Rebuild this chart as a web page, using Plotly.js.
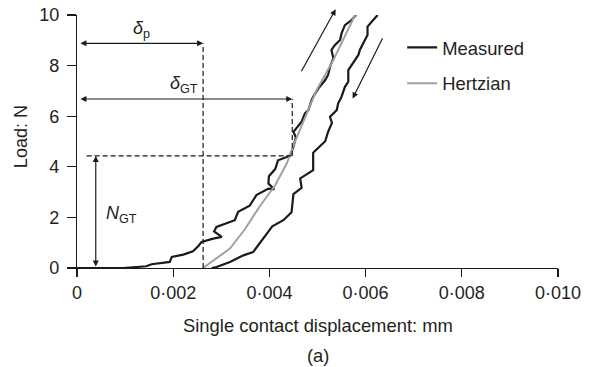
<!DOCTYPE html>
<html>
<head>
<meta charset="utf-8">
<script src="https://cdn.plot.ly/plotly-3.0.1.min.js"></script>
<style>html,body{margin:0;padding:0;background:#fff;}#chart{width:599px;height:367px;}</style>
</head>
<body>
<div id="chart"></div>
<script>
// Measured loading branch (displacement mm, load N)
const loadX = [0, 0.00096, 0.00144, 0.00155, 0.00193, 0.00197, 0.00221, 0.00241, 0.00252, 0.00259, 0.00283, 0.00301, 0.00285, 0.00290, 0.00328, 0.00335, 0.00359, 0.00373, 0.00398, 0.00410, 0.00398, 0.00399, 0.00412, 0.00418, 0.00436, 0.00443, 0.00450, 0.00455, 0.00450, 0.00467, 0.00474, 0.00481, 0.00488, 0.00491, 0.00502, 0.00516, 0.00522, 0.00526, 0.00533, 0.00529, 0.00536, 0.00547, 0.00550, 0.00557, 0.00571, 0.00580];
const loadY = [0, 0, 0.07, 0.15, 0.24, 0.44, 0.53, 0.66, 0.86, 1.03, 1.16, 1.23, 1.45, 1.62, 1.89, 2.22, 2.46, 2.88, 3.14, 3.11, 3.34, 3.63, 3.91, 4.26, 4.39, 4.46, 4.79, 5.17, 5.38, 5.78, 6.11, 6.24, 6.64, 6.77, 7.10, 7.43, 7.63, 7.95, 8.29, 8.62, 8.81, 9.01, 9.28, 9.60, 9.80, 10.0];
// Measured unloading branch
const unloadX = [0.00625, 0.00609, 0.00604, 0.00604, 0.00595, 0.00588, 0.00585, 0.00571, 0.00564, 0.00564, 0.00557, 0.00550, 0.00543, 0.00540, 0.00526, 0.00530, 0.00522, 0.00516, 0.00491, 0.00491, 0.00464, 0.00467, 0.00450, 0.00446, 0.00429, 0.00406, 0.00391, 0.00366, 0.00346, 0.00318, 0.00290, 0.00280];
const unloadY = [10.0, 9.67, 9.54, 9.21, 8.88, 8.62, 8.42, 8.02, 7.82, 7.36, 7.16, 6.77, 6.51, 6.24, 5.98, 5.73, 5.38, 5.01, 4.56, 3.87, 3.54, 3.17, 2.92, 2.20, 1.89, 1.65, 1.25, 0.63, 0.50, 0.24, 0.04, 0];
// Hertzian prediction
const hertzX = [0.00262, 0.00318, 0.00349, 0.00380, 0.00412, 0.00436, 0.00453, 0.00498, 0.00533, 0.00578];
const hertzY = [0, 0.77, 1.53, 2.44, 3.27, 4.13, 4.99, 7.03, 8.22, 10.0];
// Axis ticks
const xTickVals = [0, 0.002, 0.004, 0.006, 0.008, 0.010];
const xTickText = ["0", "0·002", "0·004", "0·006", "0·008", "0·010"];
const yTickVals = [0, 2, 4, 6, 8, 10];
// Construction markers
const deltaP = 0.002622;     // δp (mm)
const deltaGT = 0.004475;    // δGT (mm)
const loadGT = 4.43;         // N_GT (N)
const yDeltaP = 8.88;
const yDeltaGT = 6.68;
const xNGT = 0.00039;

const measX = loadX.concat([null], unloadX);
const measY = loadY.concat([null], unloadY);

const FONT = '"Liberation Sans", Arial, Helvetica, sans-serif';
const TXT = '#231f20';

const traces = [
  {x: measX, y: measY, type: 'scatter', mode: 'lines', name: 'Measured',
   line: {color: '#1a1a1a', width: 2.2}, connectgaps: false, legendgroup: 'm', cliponaxis: false},
  {x: hertzX, y: hertzY, type: 'scatter', mode: 'lines', name: 'Hertzian',
   line: {color: '#a0a0a0', width: 2}, legendgroup: 'h', cliponaxis: false}
];

const dash = {color: '#1a1a1a', width: 1.2, dash: '5px,3px'};
const shapes = [
  {type: 'line', xref: 'x', yref: 'y', x0: deltaP, x1: deltaP, y0: 0, y1: yDeltaP, line: dash},
  {type: 'line', xref: 'x', yref: 'y', x0: deltaGT, x1: deltaGT, y0: loadGT, y1: yDeltaGT, line: dash},
  {type: 'line', xref: 'x', yref: 'y', x0: 0.0002, x1: deltaGT, y0: loadGT, y1: loadGT, line: dash}
];

function arrow(xh, yh, xt, yt, both) {
  return {x: xh, y: yh, ax: xt, ay: yt, xref: 'x', yref: 'y', axref: 'x', ayref: 'y',
    text: '', showarrow: true, arrowhead: 2, startarrowhead: 2, arrowsize: 1, startarrowsize: 1,
    arrowwidth: 1.2, arrowcolor: '#1a1a1a', arrowside: both ? 'end+start' : 'end', standoff: 0, startstandoff: 0};
}

const annotations = [
  arrow(deltaP, yDeltaP, 0.00004, yDeltaP, true),
  arrow(deltaGT, yDeltaGT, 0.00004, yDeltaGT, true),
  arrow(xNGT, loadGT, xNGT, 0, true),
  arrow(0.005378, 10.23, 0.004649, 7.72, false),
  arrow(0.005731, 6.70, 0.006368, 9.14, false),
  {x: 0.00134, y: 9.41, xref: 'x', yref: 'y', showarrow: false, text: '<i>δ</i><sub>p</sub>',
   font: {family: FONT, size: 18, color: TXT}},
  {x: 0.00222, y: 7.27, xref: 'x', yref: 'y', showarrow: false, text: '<i>δ</i><sub>GT</sub>',
   font: {family: FONT, size: 18, color: TXT}},
  {x: 0.00092, y: 2.12, xref: 'x', yref: 'y', showarrow: false, text: '<i>N</i><sub>GT</sub>',
   font: {family: FONT, size: 18, color: TXT}},
  {x: -0.115, y: 0.52, xref: 'paper', yref: 'paper', xanchor: 'center', yanchor: 'middle',
   showarrow: false, text: 'Load: N', textangle: -90,
   font: {family: FONT, size: 18, color: TXT}},
  {x: 0.5, y: -0.229, xref: 'paper', yref: 'paper', xanchor: 'center', yanchor: 'middle',
   showarrow: false, text: 'Single contact displacement: mm',
   font: {family: FONT, size: 18.4, color: TXT}},
  {x: 0.5, y: -0.344, xref: 'paper', yref: 'paper', xanchor: 'center', yanchor: 'middle',
   showarrow: false, text: '(a)',
   font: {family: FONT, size: 18.4, color: TXT}}
];

const layout = {
  width: 599, height: 367,
  margin: {l: 77, r: 41, t: 15, b: 99, pad: 0},
  paper_bgcolor: '#fff', plot_bgcolor: '#fff',
  font: {family: FONT, size: 18, color: TXT},
  showlegend: true,
  legend: {x: 0.676, y: 0.945, xanchor: 'left', yanchor: 'top', bgcolor: 'rgba(0,0,0,0)',
    traceorder: 'grouped', tracegroupgap: 9, font: {family: FONT, size: 18.4, color: TXT}, itemwidth: 30},
  xaxis: {range: [0, 0.010], tickmode: 'array', tickvals: xTickVals, ticktext: xTickText,
    showgrid: false, zeroline: false, showline: true, linecolor: '#1a1a1a', linewidth: 1.2,
    ticks: 'outside', ticklen: 8, tickwidth: 1.2, tickcolor: '#1a1a1a',
    tickfont: {family: FONT, size: 18, color: TXT}, fixedrange: true},
  yaxis: {range: [0, 10], tickmode: 'array', tickvals: yTickVals,
    showgrid: false, zeroline: false, showline: true, linecolor: '#1a1a1a', linewidth: 1.2,
    ticks: 'outside', ticklen: 9, tickwidth: 1.2, tickcolor: '#1a1a1a', ticklabelstandoff: 4,
    tickfont: {family: FONT, size: 18, color: TXT}, fixedrange: true},
  shapes: shapes,
  annotations: annotations
};

Plotly.newPlot('chart', traces, layout, {displayModeBar: false, staticPlot: true});
</script>
</body>
</html>
